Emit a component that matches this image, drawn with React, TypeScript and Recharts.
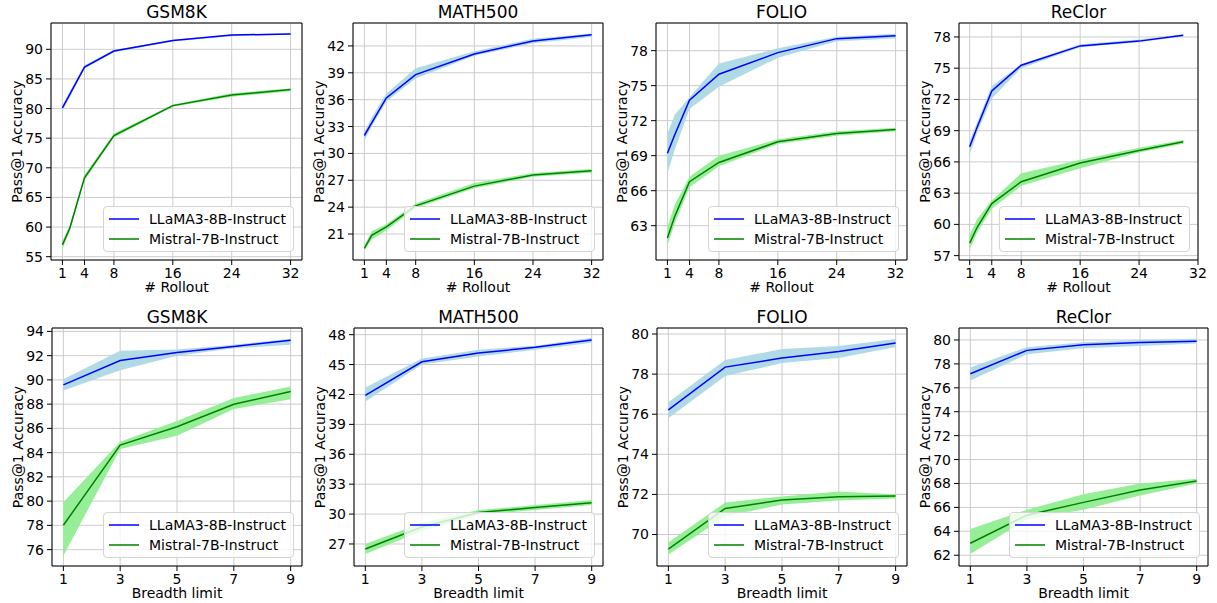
import React from 'react';
import { ComposedChart, Line, Area, XAxis, YAxis, CartesianGrid, Legend, ReferenceLine } from 'recharts';

// ---------- categories / ticks ----------
const ROLLOUT_X = [1, 2, 4, 8, 16, 24, 32];
const RECLOR_ROLLOUT_X = [1, 2, 4, 8, 16, 24, 30];
const BREADTH_X = [1, 3, 5, 7, 9];
const ROLLOUT_TICKS = [1, 4, 8, 16, 24, 32];
const BREADTH_TICKS = [1, 3, 5, 7, 9];

const GSM8K_ROLLOUT_YTICKS = [55, 60, 65, 70, 75, 80, 85, 90];
const MATH500_ROLLOUT_YTICKS = [21, 24, 27, 30, 33, 36, 39, 42];
const FOLIO_ROLLOUT_YTICKS = [63, 66, 69, 72, 75, 78];
const RECLOR_ROLLOUT_YTICKS = [57, 60, 63, 66, 69, 72, 75, 78];
const GSM8K_BREADTH_YTICKS = [76, 78, 80, 82, 84, 86, 88, 90, 92, 94];
const MATH500_BREADTH_YTICKS = [27, 30, 33, 36, 39, 42, 45, 48];
const FOLIO_BREADTH_YTICKS = [70, 72, 74, 76, 78, 80];
const RECLOR_BREADTH_YTICKS = [62, 64, 66, 68, 70, 72, 74, 76, 78, 80];

const SERIES_NAMES = ['LLaMA3-8B-Instruct', 'Mistral-7B-Instruct'];
const TITLES = ['GSM8K', 'MATH500', 'FOLIO', 'ReClor'];
const X_LABELS = ['# Rollout', 'Breadth limit'];
const Y_LABEL = 'Pass@1 Accuracy';

// ---------- series values: # Rollout ----------
const GSM8K_R_LLAMA = [80.1, 82.4, 87.0, 89.7, 91.5, 92.4, 92.6];
const GSM8K_R_LLAMA_LO = [79.6, 81.9, 86.7, 89.5, 91.3, 92.2, 92.5];
const GSM8K_R_LLAMA_HI = [80.5, 82.9, 87.3, 89.9, 91.6, 92.5, 92.7];
const GSM8K_R_MISTRAL = [57.0, 59.8, 68.3, 75.45, 80.5, 82.3, 83.2];
const GSM8K_R_MISTRAL_LO = [56.3, 59.3, 67.9, 75.1, 80.3, 82.0, 82.9];
const GSM8K_R_MISTRAL_HI = [57.6, 60.3, 68.8, 75.8, 80.7, 82.6, 83.4];

const MATH500_R_LLAMA = [32.0, 33.4, 36.2, 38.8, 41.1, 42.55, 43.26];
const MATH500_R_LLAMA_LO = [31.45, 33.0, 35.8, 38.35, 40.9, 42.3, 43.0];
const MATH500_R_LLAMA_HI = [32.4, 34.0, 36.7, 39.5, 41.4, 42.8, 43.4];
const MATH500_R_MISTRAL = [19.4, 20.85, 21.8, 24.15, 26.35, 27.6, 28.06];
const MATH500_R_MISTRAL_LO = [19.2, 20.4, 21.4, 23.9, 26.1, 27.4, 27.85];
const MATH500_R_MISTRAL_HI = [19.7, 21.3, 22.1, 24.4, 26.7, 27.8, 28.25];

const FOLIO_R_LLAMA = [69.2, 70.8, 73.75, 75.98, 77.83, 79.03, 79.28];
const FOLIO_R_LLAMA_LO = [67.5, 69.5, 73.0, 74.9, 77.4, 78.8, 79.05];
const FOLIO_R_LLAMA_HI = [70.9, 72.5, 74.0, 76.9, 78.2, 79.2, 79.45];
const FOLIO_R_MISTRAL = [61.95, 63.8, 66.77, 68.42, 70.19, 70.9, 71.24];
const FOLIO_R_MISTRAL_LO = [61.3, 63.2, 66.3, 68.1, 70.0, 70.7, 71.1];
const FOLIO_R_MISTRAL_HI = [62.9, 64.8, 67.2, 69.0, 70.4, 71.1, 71.4];

const RECLOR_R_LLAMA = [67.45, 69.3, 72.82, 75.28, 77.14, 77.6, 78.16];
const RECLOR_R_LLAMA_LO = [66.7, 68.8, 72.1, 75.0, 77.0, 77.5, 78.05];
const RECLOR_R_LLAMA_HI = [68.0, 69.8, 73.3, 75.4, 77.3, 77.75, 78.25];
const RECLOR_R_MISTRAL = [58.2, 59.7, 62.0, 64.1, 65.9, 67.1, 67.93];
const RECLOR_R_MISTRAL_LO = [57.6, 59.2, 61.5, 63.7, 65.4, 66.9, 67.75];
const RECLOR_R_MISTRAL_HI = [59.0, 60.5, 62.3, 64.9, 66.2, 67.35, 68.1];

// ---------- series values: Breadth limit ----------
const GSM8K_B_LLAMA = [89.59, 91.6, 92.26, 92.76, 93.26];
const GSM8K_B_LLAMA_LO = [89.12, 90.8, 92.0, 92.6, 92.9];
const GSM8K_B_LLAMA_HI = [90.06, 92.4, 92.5, 92.9, 93.4];
const GSM8K_B_MISTRAL = [78.01, 84.62, 86.14, 87.99, 89.04];
const GSM8K_B_MISTRAL_LO = [75.5, 84.3, 85.4, 87.6, 88.4];
const GSM8K_B_MISTRAL_HI = [79.9, 84.9, 86.6, 88.5, 89.45];

const MATH500_B_LLAMA = [41.9, 45.28, 46.15, 46.73, 47.46];
const MATH500_B_LLAMA_LO = [41.3, 45.0, 45.8, 46.5, 47.2];
const MATH500_B_LLAMA_HI = [42.7, 45.6, 46.5, 46.9, 47.7];
const MATH500_B_MISTRAL = [26.5, 28.7, 30.15, 30.66, 31.13];
const MATH500_B_MISTRAL_LO = [26.0, 28.3, 29.9, 30.4, 30.9];
const MATH500_B_MISTRAL_HI = [27.0, 29.1, 30.4, 30.9, 31.4];

const FOLIO_B_LLAMA = [76.22, 78.35, 78.8, 79.13, 79.55];
const FOLIO_B_LLAMA_LO = [75.8, 77.9, 78.55, 78.8, 79.35];
const FOLIO_B_LLAMA_HI = [76.6, 78.7, 79.25, 79.4, 79.75];
const FOLIO_B_MISTRAL = [69.27, 71.3, 71.72, 71.88, 71.92];
const FOLIO_B_MISTRAL_LO = [69.0, 70.9, 71.5, 71.7, 71.8];
const FOLIO_B_MISTRAL_HI = [69.6, 71.6, 71.9, 72.15, 72.0];

const RECLOR_B_LLAMA = [77.18, 79.13, 79.6, 79.78, 79.89];
const RECLOR_B_LLAMA_LO = [76.6, 78.8, 79.3, 79.5, 79.7];
const RECLOR_B_LLAMA_HI = [77.7, 79.4, 79.8, 80.0, 80.1];
const RECLOR_B_MISTRAL = [63.0, 65.35, 66.42, 67.45, 68.2];
const RECLOR_B_MISTRAL_LO = [62.1, 65.0, 65.8, 67.0, 68.0];
const RECLOR_B_MISTRAL_HI = [64.2, 65.8, 67.1, 68.0, 68.4];

// ---------- styles ----------
const LINE_COLORS = ['#0000ff', '#008000'];
const BAND_COLORS = ['#add8e6', '#90ee90'];
const FONT = "'DejaVu Sans', sans-serif";

function build(xs, a, aLo, aHi, b, bLo, bHi) {
  return xs.map((x, i) => ({
    x,
    llama: a[i],
    llamaBand: [aLo[i], aHi[i]],
    mistral: b[i],
    mistralBand: [bLo[i], bHi[i]],
  }));
}

// layout of each plot area (page pixels)
const PANELS = [
  { title: TITLES[0], xLabel: X_LABELS[0], left: 51, right: 302, top: 23, bottom: 260, xDomain: [-0.55, 33.55], xTicks: ROLLOUT_TICKS, yDomain: [54.44, 94.44], yTicks: GSM8K_ROLLOUT_YTICKS,
    data: build(ROLLOUT_X, GSM8K_R_LLAMA, GSM8K_R_LLAMA_LO, GSM8K_R_LLAMA_HI, GSM8K_R_MISTRAL, GSM8K_R_MISTRAL_LO, GSM8K_R_MISTRAL_HI) },
  { title: TITLES[1], xLabel: X_LABELS[0], left: 353, right: 603, top: 23, bottom: 260, xDomain: [-0.55, 33.55], xTicks: ROLLOUT_TICKS, yDomain: [18.1, 44.56], yTicks: MATH500_ROLLOUT_YTICKS,
    data: build(ROLLOUT_X, MATH500_R_LLAMA, MATH500_R_LLAMA_LO, MATH500_R_LLAMA_HI, MATH500_R_MISTRAL, MATH500_R_MISTRAL_LO, MATH500_R_MISTRAL_HI) },
  { title: TITLES[2], xLabel: X_LABELS[0], left: 656, right: 907, top: 23, bottom: 260, xDomain: [-0.55, 33.55], xTicks: ROLLOUT_TICKS, yDomain: [60.06, 80.37], yTicks: FOLIO_ROLLOUT_YTICKS,
    data: build(ROLLOUT_X, FOLIO_R_LLAMA, FOLIO_R_LLAMA_LO, FOLIO_R_LLAMA_HI, FOLIO_R_MISTRAL, FOLIO_R_MISTRAL_LO, FOLIO_R_MISTRAL_HI) },
  { title: TITLES[3], xLabel: X_LABELS[0], left: 959, right: 1198, top: 23, bottom: 260, xDomain: [-0.45, 32], xTicks: ROLLOUT_TICKS, yDomain: [56.58, 79.34], yTicks: RECLOR_ROLLOUT_YTICKS,
    data: build(RECLOR_ROLLOUT_X, RECLOR_R_LLAMA, RECLOR_R_LLAMA_LO, RECLOR_R_LLAMA_HI, RECLOR_R_MISTRAL, RECLOR_R_MISTRAL_LO, RECLOR_R_MISTRAL_HI) },
  { title: TITLES[0], xLabel: X_LABELS[1], left: 52, right: 302, top: 328, bottom: 566, xDomain: [0.6, 9.4], xTicks: BREADTH_TICKS, yDomain: [74.65, 94.28], yTicks: GSM8K_BREADTH_YTICKS,
    data: build(BREADTH_X, GSM8K_B_LLAMA, GSM8K_B_LLAMA_LO, GSM8K_B_LLAMA_HI, GSM8K_B_MISTRAL, GSM8K_B_MISTRAL_LO, GSM8K_B_MISTRAL_HI) },
  { title: TITLES[1], xLabel: X_LABELS[1], left: 354, right: 603, top: 328, bottom: 566, xDomain: [0.6, 9.4], xTicks: BREADTH_TICKS, yDomain: [24.79, 48.67], yTicks: MATH500_BREADTH_YTICKS,
    data: build(BREADTH_X, MATH500_B_LLAMA, MATH500_B_LLAMA_LO, MATH500_B_LLAMA_HI, MATH500_B_MISTRAL, MATH500_B_MISTRAL_LO, MATH500_B_MISTRAL_HI) },
  { title: TITLES[2], xLabel: X_LABELS[1], left: 657, right: 907, top: 328, bottom: 566, xDomain: [0.6, 9.4], xTicks: BREADTH_TICKS, yDomain: [68.43, 80.3], yTicks: FOLIO_BREADTH_YTICKS,
    data: build(BREADTH_X, FOLIO_B_LLAMA, FOLIO_B_LLAMA_LO, FOLIO_B_LLAMA_HI, FOLIO_B_MISTRAL, FOLIO_B_MISTRAL_LO, FOLIO_B_MISTRAL_HI) },
  { title: TITLES[3], xLabel: X_LABELS[1], left: 959, right: 1208, top: 328, bottom: 566, xDomain: [0.6, 9.4], xTicks: BREADTH_TICKS, yDomain: [61.1, 81.0], yTicks: RECLOR_BREADTH_YTICKS,
    data: build(BREADTH_X, RECLOR_B_LLAMA, RECLOR_B_LLAMA_LO, RECLOR_B_LLAMA_HI, RECLOR_B_MISTRAL, RECLOR_B_MISTRAL_LO, RECLOR_B_MISTRAL_HI) },
];

const LegendBox = () => (
  <div
    style={{
      background: 'rgba(255,255,255,0.8)',
      border: '1px solid #d4d4d4',
      borderRadius: 4,
      padding: '2px 7px 2px 5px',
      fontFamily: FONT,
      fontSize: 14,
      lineHeight: '20px',
      color: '#000',
    }}
  >
    {SERIES_NAMES.map((n, i) => (
      <div key={n} style={{ display: 'flex', alignItems: 'center', height: 20, whiteSpace: 'nowrap' }}>
        <svg width={30} height={6} style={{ marginRight: 10, display: 'block' }}>
          <line x1={0} y1={3} x2={30} y2={3} stroke={LINE_COLORS[i]} strokeWidth={1.5} />
        </svg>
        <span>{n}</span>
      </div>
    ))}
  </div>
);

const AXIS_W = 60;
const TOP_M = 30;
const RIGHT_M = 10;
const XAXIS_H = 45;

function Panel({ p }) {
  const plotW = p.right - p.left;
  const plotH = p.bottom - p.top;
  const W = plotW + AXIS_W + RIGHT_M;
  const H = plotH + TOP_M + XAXIS_H;
  const tickStyle = { fontSize: 14, fill: '#000', fontFamily: FONT };
  return (
    <div style={{ position: 'absolute', left: p.left - AXIS_W, top: p.top - TOP_M, width: W, height: H, fontFamily: FONT }}>
      <ComposedChart width={W} height={H} data={p.data} margin={{ top: TOP_M, right: RIGHT_M, bottom: 0, left: 0 }}>
        <CartesianGrid stroke="#cccccc" strokeWidth={1} />
        <XAxis
          dataKey="x"
          type="number"
          domain={p.xDomain}
          ticks={p.xTicks}
          allowDataOverflow
          interval={0}
          height={XAXIS_H}
          tickSize={5}
          tickMargin={3}
          axisLine={{ stroke: '#000' }}
          tickLine={{ stroke: '#000' }}
          tick={tickStyle}
          label={{ value: p.xLabel, position: 'insideBottom', offset: 13, fontSize: 14, fill: '#000', fontFamily: FONT }}
        />
        <YAxis
          type="number"
          domain={p.yDomain}
          ticks={p.yTicks}
          allowDataOverflow
          interval={0}
          width={AXIS_W}
          tickSize={5}
          tickMargin={3}
          axisLine={{ stroke: '#000' }}
          tickLine={{ stroke: '#000' }}
          tick={tickStyle}
          label={{ value: Y_LABEL, angle: -90, position: 'insideLeft', offset: 26, fontSize: 14, fill: '#000', fontFamily: FONT, style: { textAnchor: 'middle' } }}
        />
        <Area type="linear" dataKey="llamaBand" stroke="none" fill={BAND_COLORS[0]} fillOpacity={0.95} isAnimationActive={false} />
        <Line type="linear" dataKey="llama" stroke={LINE_COLORS[0]} strokeWidth={1.5} dot={false} isAnimationActive={false} />
        <Area type="linear" dataKey="mistralBand" stroke="none" fill={BAND_COLORS[1]} fillOpacity={0.95} isAnimationActive={false} />
        <Line type="linear" dataKey="mistral" stroke={LINE_COLORS[1]} strokeWidth={1.5} dot={false} isAnimationActive={false} />
        <ReferenceLine
          y={p.yDomain[1]}
          stroke="#000"
          strokeWidth={1}
          ifOverflow="visible"
          label={{ value: p.title, position: 'top', offset: 5, fontSize: 17, fill: '#000', fontFamily: FONT }}
        />
        <ReferenceLine x={p.xDomain[1]} stroke="#000" strokeWidth={1} ifOverflow="visible" />
        <Legend
          layout="vertical"
          verticalAlign="middle"
          align="center"
          wrapperStyle={{ left: 'auto', top: 'auto', right: RIGHT_M + 8, bottom: XAXIS_H + 8, width: 'auto', height: 'auto' }}
          content={LegendBox}
        />
      </ComposedChart>
    </div>
  );
}

export default function App() {
  return (
    <div style={{ position: 'absolute', left: 0, top: 0, width: 1217, height: 603, background: '#fff', overflow: 'hidden' }}>
      {PANELS.map((p, i) => (
        <Panel key={i} p={p} />
      ))}
    </div>
  );
}
